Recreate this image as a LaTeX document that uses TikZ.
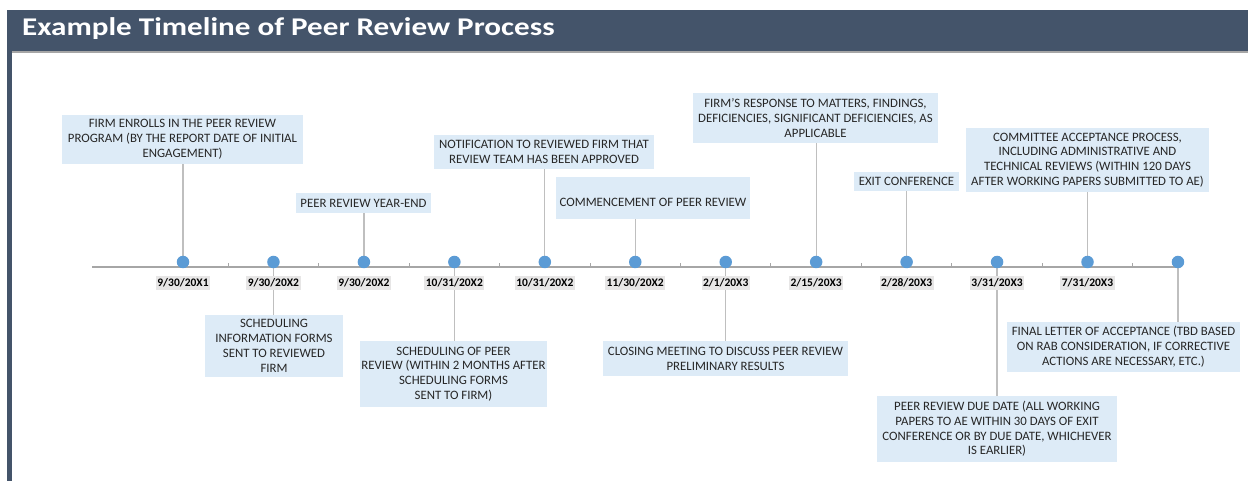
\documentclass[tikz,border=0pt]{standalone}
\usepackage{fontspec}
\setmainfont{Carlito}
\newfontfamily\titlefont{Carlito}[FakeStretch=1.22]
\definecolor{hdr}{HTML}{44546A}
\definecolor{dotc}{HTML}{5B9BD5}
\definecolor{boxc}{HTML}{DDEBF7}
\definecolor{datec}{HTML}{E7E6E6}
\definecolor{linec}{HTML}{BFBFBF}
\definecolor{axisc}{HTML}{A6A6A6}
\definecolor{txt}{HTML}{262626}
\tikzset{
  callout/.style={fill=boxc, text=txt, align=center, inner sep=0pt, font=\fontsize{12.8}{14.8}\selectfont},
  datelbl/.style={fill=datec, text=black, inner xsep=1.5pt, inner ysep=2.5pt, font=\fontsize{11.5}{13}\selectfont\bfseries},
  conn/.style={draw=linec, line width=1.2pt},
  dotmark/.style={circle, fill=dotc, minimum size=12.5pt, inner sep=0pt},
}
\begin{document}
\begin{tikzpicture}[x=1pt,y=-1pt]
\useasboundingbox (0,0) rectangle (1248,481);
\fill[white] (0,0) rectangle (1248,481);
% header
\fill[hdr] (7,10) rectangle (1248,51);
\fill[hdr] (7,51) rectangle (11.5,481);
\fill[axisc] (11.5,51) rectangle (1248,53);
\node[anchor=base west, text=white, font=\titlefont\fontsize{25.5}{30}\selectfont\bfseries, inner sep=0pt] (title) at (22,36) {Example Timeline of Peer Review Process};
% dots coordinates
\foreach \i in {0,...,11} \coordinate (d\i) at ({183+90.45*\i},262);
% axis
\coordinate (axstart) at (92,267);
\coordinate (axend) at (1178,267);
\draw[draw=axisc, line width=1.2pt] (axstart) -- (axend);
\foreach \i in {0,...,10} \draw[draw=axisc, line width=1pt] ({228.2+90.45*\i},267) -- ++(0,-3.5);
% callout boxes (above)
\node[callout, minimum width=241pt, minimum height=49pt] (b1) at (182.5,139.5) {FIRM ENROLLS IN THE PEER REVIEW\\PROGRAM (BY THE REPORT DATE OF INITIAL\\ENGAGEMENT)};
\node[callout, minimum width=135pt, minimum height=20pt] (b2) at (363.5,203) {PEER REVIEW YEAR-END};
\node[callout, minimum width=220pt, minimum height=34pt] (b3) at (544,152) {NOTIFICATION TO REVIEWED FIRM THAT\\REVIEW TEAM HAS BEEN APPROVED};
\node[callout, minimum width=194pt, minimum height=42pt] (b4) at (653,198) {\mbox{}\\[3pt]COMMENCEMENT OF PEER REVIEW};
\node[callout, minimum width=245pt, minimum height=50pt] (b5) at (815.5,118) {FIRM'S RESPONSE TO MATTERS, FINDINGS,\\DEFICIENCIES, SIGNIFICANT DEFICIENCIES, AS\\APPLICABLE};
\node[callout, minimum width=105pt, minimum height=19pt] (b6) at (906.5,181.5) {EXIT CONFERENCE};
\node[callout, minimum width=243pt, minimum height=64pt] (b7) at (1087.5,160) {COMMITTEE ACCEPTANCE PROCESS,\\INCLUDING ADMINISTRATIVE AND\\TECHNICAL REVIEWS (WITHIN 120 DAYS\\AFTER WORKING PAPERS SUBMITTED TO AE)};
% callout boxes (below)
\node[callout, minimum width=138pt, minimum height=62pt] (b8) at (274,346) {SCHEDULING\\INFORMATION FORMS\\SENT TO REVIEWED\\FIRM};
\node[callout, minimum width=187pt, minimum height=66pt] (b9) at (453.5,374) {SCHEDULING OF PEER\\REVIEW (WITHIN 2 MONTHS AFTER\\SCHEDULING FORMS\\SENT TO FIRM)};
\node[callout, minimum width=245pt, minimum height=35pt] (b10) at (725.5,358.5) {CLOSING MEETING TO DISCUSS PEER REVIEW\\PRELIMINARY RESULTS};
\node[callout, minimum width=240pt, minimum height=66pt] (b11) at (997,429) {PEER REVIEW DUE DATE (ALL WORKING\\PAPERS TO AE WITHIN 30 DAYS OF EXIT\\CONFERENCE OR BY DUE DATE, WHICHEVER\\IS EARLIER)};
\node[callout, minimum width=233pt, minimum height=50pt] (b12) at (1123.5,347) {FINAL LETTER OF ACCEPTANCE (TBD BASED\\ON RAB CONSIDERATION, IF CORRECTIVE\\ACTIONS ARE NECESSARY, ETC.)};
% connectors
\draw[conn] (d0) -- (d0 |- b1.south);
\draw[conn] (d1) -- (d1 |- b8.north);
\draw[conn] (d2) -- (d2 |- b2.south);
\draw[conn] (d3) -- (d3 |- b9.north);
\draw[conn] (d4) -- (d4 |- b3.south);
\draw[conn] (d5) -- (d5 |- b4.south);
\draw[conn] (d6) -- (d6 |- b10.north);
\draw[conn] (d7) -- (d7 |- b5.south);
\draw[conn] (d8) -- (d8 |- b6.south);
\draw[conn] (d9) -- (d9 |- b11.north);
\draw[conn] (d10) -- (d10 |- b7.south);
\draw[conn] (d11) -- (d11 |- b12.north);
% date labels
\foreach \i/\t in {0/9\slash 30\slash 20X1, 1/9\slash 30\slash 20X2, 2/9\slash 30\slash 20X2, 3/10\slash 31\slash 20X2, 4/10\slash 31\slash 20X2, 5/11\slash 30\slash 20X2, 6/2\slash 1\slash 20X3, 7/2\slash 15\slash 20X3, 8/2\slash 28\slash 20X3, 9/3\slash 31\slash 20X3, 10/7\slash 31\slash 20X3}
  \node[datelbl] (t\i) at ({183+90.45*\i},283) {\t};
% dots
\foreach \i in {0,...,11} \node[dotmark] (m\i) at (d\i) {};
\end{tikzpicture}
\end{document}
